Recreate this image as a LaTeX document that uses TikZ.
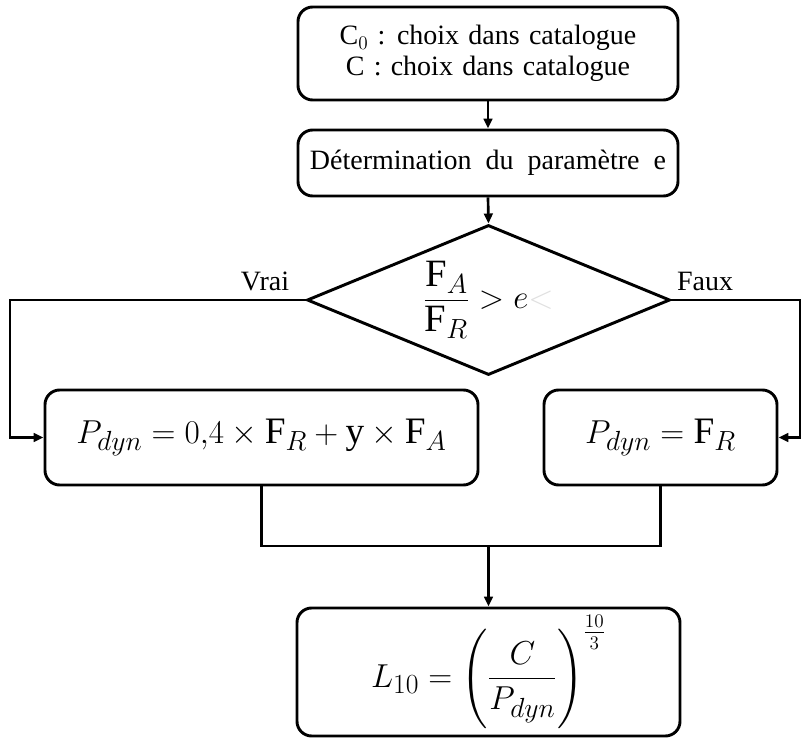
\documentclass[tikz,border=0pt]{standalone}
\usepackage{fontspec}
\setmainfont{Liberation Serif}
\usepackage{amsmath}
\usetikzlibrary{shapes.geometric,arrows.meta}
\newcommand{\expfrac}{\frac{10\rule[-2.5pt]{0pt}{2.5pt}}{\rule{0pt}{11pt}3}}
\begin{document}
\begin{tikzpicture}[x=0.75pt,y=-0.75pt,
  box/.style={draw,line width=2.2pt,rounded corners=11pt,inner sep=0pt,align=center},
  flow/.style={line width=2pt},
  arr/.style={flow,-{Triangle[length=7.5pt,width=6.5pt]}},
  txt/.style={font=\fontsize{21}{23}\selectfont},
  bigmath/.style={font=\fontsize{28}{31}\selectfont}]
\useasboundingbox (0,0) rectangle (807,738);
\node[box,txt,minimum width=380*0.75pt,minimum height=93*0.75pt] (b1) at (488,53.5)
  {\spaceskip=0.33em C$_0$ : choix dans catalogue\\\spaceskip=0.33em C : choix dans catalogue};
\node[box,txt,minimum width=380*0.75pt,minimum height=66*0.75pt] (b2) at (488,163)
  {\spaceskip=0.5em Détermination du paramètre e};
\node[draw,diamond,line width=2.2pt,inner sep=0pt,aspect=2.42,minimum width=363*0.75pt,minimum height=150*0.75pt,font=\fontsize{29}{32}\selectfont] (dia) at (488.5,300)
  {$\dfrac{\textrm{F}_A}{\textrm{F}_R} > e{\color{black!12}<}$};
\node[box,bigmath,minimum width=433*0.75pt,minimum height=95*0.75pt] (b3) at (261.5,437.5)
  {$P_{dyn} = 0{,}4 \times \textrm{F}_R + \textrm{y} \times \textrm{F}_A$};
\node[box,bigmath,minimum width=233*0.75pt,minimum height=95*0.75pt] (b4) at (660.5,437.5)
  {$P_{dyn} = \textrm{F}_R$};
\node[box,bigmath,minimum width=383*0.75pt,minimum height=128*0.75pt] (b5) at (488.5,672)
  {$L_{10} = \left(\dfrac{C}{P_{dyn}}\right)^{\expfrac}$};
\node[txt] (vrai) at (265,281) {Vrai};
\node[txt] (faux) at (705,281) {Faux};
\coordinate (L) at (10,300);
\coordinate (R) at (800,300);
\coordinate (J) at (488.5,546);
\draw[arr] (b1.south) -- (b2.north);
\draw[arr] (b2.south) -- (dia.north);
\draw[arr] (dia.west) -- (L) |- (b3.west);
\draw[arr] (dia.east) -- (R) |- (b4.east);
\draw[flow] (b3.south) |- (J) -| (b4.south);
\draw[arr] (J) -- (b5.north);
\end{tikzpicture}
\end{document}
